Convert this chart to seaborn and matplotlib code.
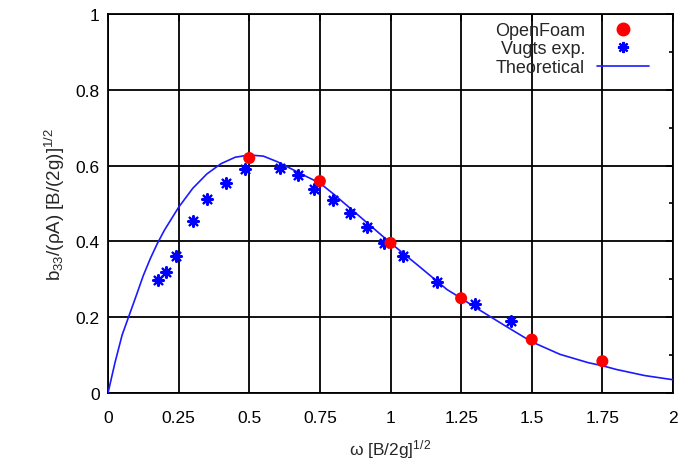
import matplotlib
matplotlib.use("Agg")
import matplotlib.pyplot as plt
from matplotlib.lines import Line2D
from matplotlib.ticker import MultipleLocator
import pandas as pd
import seaborn as sns

# OpenFoam results
foam_w = [0.5, 0.75, 1.0, 1.25, 1.5, 1.75]
foam_b = [0.620, 0.559, 0.396, 0.250, 0.141, 0.084]

# Vugts experiments
vugts_w = [0.178, 0.205, 0.241, 0.302, 0.349, 0.418, 0.485, 0.609, 0.672, 0.729,
           0.795, 0.857, 0.918, 0.978, 1.044, 1.165, 1.299, 1.427]
vugts_b = [0.299, 0.318, 0.361, 0.455, 0.512, 0.554, 0.591, 0.594, 0.575, 0.538,
           0.510, 0.475, 0.437, 0.397, 0.361, 0.294, 0.235, 0.189]

# theoretical curve
theo_w = [0.0, 0.025, 0.05, 0.075, 0.10, 0.125, 0.15, 0.175, 0.20, 0.25, 0.30, 0.35,
          0.40, 0.45, 0.50, 0.55, 0.60, 0.65, 0.70, 0.75, 0.80, 0.85, 0.90, 0.95,
          1.00, 1.10, 1.20, 1.25, 1.30, 1.40, 1.50, 1.60, 1.70, 1.75, 1.80, 1.90, 2.00]
theo_b = [0.0, 0.081, 0.153, 0.205, 0.257, 0.310, 0.355, 0.395, 0.430, 0.490, 0.540, 0.578,
          0.605, 0.622, 0.628, 0.625, 0.610, 0.591, 0.572, 0.554, 0.524, 0.492, 0.460, 0.428,
          0.396, 0.335, 0.273, 0.250, 0.226, 0.180, 0.135, 0.102, 0.080, 0.072, 0.062, 0.046, 0.035]

foam = pd.DataFrame({"w": foam_w, "b": foam_b})
vugts = pd.DataFrame({"w": vugts_w, "b": vugts_b})
theo = pd.DataFrame({"w": theo_w, "b": theo_b})

sns.set_style("white")
plt.rcParams["font.family"] = ["Liberation Sans", "DejaVu Sans"]
plt.rcParams["mathtext.default"] = "regular"

fig = plt.figure(figsize=(6.81, 4.60), dpi=100)
ax = fig.add_axes([108 / 681, 1 - 394 / 460, 565 / 681, 379 / 460])

sns.lineplot(data=theo, x="w", y="b", ax=ax, color="#1a1aff", linewidth=1.2, zorder=3)
sns.scatterplot(data=vugts, x="w", y="b", ax=ax, marker=(8, 2, 0), color="#0000ff",
                s=60, linewidth=1.6, edgecolor="#0000ff", zorder=4)
sns.scatterplot(data=foam, x="w", y="b", ax=ax, color="#ff0000", s=75,
                edgecolor="none", zorder=5)

ax.set_xlim(0, 2)
ax.set_ylim(0, 1)
ax.yaxis.set_minor_locator(MultipleLocator(0.1))
ax.set_xticks([0, 0.25, 0.5, 0.75, 1, 1.25, 1.5, 1.75, 2])
ax.set_xticklabels(["0", "0.25", "0.5", "0.75", "1", "1.25", "1.5", "1.75", "2"])
ax.set_yticks([0, 0.2, 0.4, 0.6, 0.8, 1])
ax.set_yticklabels(["0", "0.2", "0.4", "0.6", "0.8", "1"])

ax.grid(True, which="major", color="black", linewidth=1.3)
ax.set_axisbelow(True)
for s in ax.spines.values():
    s.set_color("black")
    s.set_linewidth(1.3)
ax.tick_params(which="both", direction="in", top=True, right=True, colors="black",
               labelsize=12.5, width=1.2)
ax.tick_params(which="major", length=5)
ax.tick_params(axis="x", which="major", pad=12)
ax.tick_params(axis="y", which="major", pad=6)
ax.tick_params(which="minor", length=3)

ax.set_xlabel(r"ω [B/2g]$^{1/2}$", fontsize=12.5, labelpad=9)
ax.set_ylabel(r"b$_{33}$/(ρA) [B/(2g)]$^{1/2}$", fontsize=13.5, labelpad=6)

handles = [
    Line2D([], [], linestyle="none", marker="o", color="#ff0000", markersize=9),
    Line2D([], [], linestyle="none", marker=(8, 2, 0), color="#0000ff",
           markersize=8, markeredgewidth=1.6),
    Line2D([], [], color="#1a1aff", linewidth=1.2),
]
ax.legend(handles, ["OpenFoam", "Vugts exp.", "Theoretical"], loc="upper right",
          bbox_to_anchor=(649 / 681, 1 - 23 / 460), bbox_transform=fig.transFigure,
          frameon=False, markerfirst=False, fontsize=13, borderpad=0,
          borderaxespad=0, labelspacing=0.08, handlelength=2.9, handletextpad=0.65)

fig.savefig("out.png", dpi=100)
